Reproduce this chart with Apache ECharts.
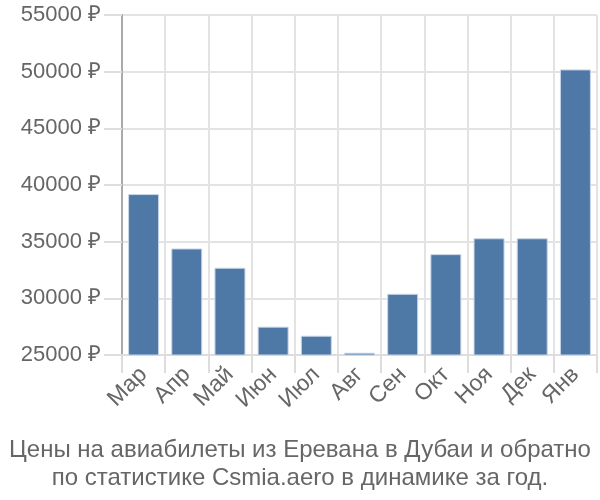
<!DOCTYPE html>
<html>
<head>
<meta charset="utf-8">
<script src="https://cdn.jsdelivr.net/npm/echarts@6/dist/echarts.min.js"></script>
<style>html,body{margin:0;padding:0;background:#fff}#c{width:600px;height:500px}</style>
</head>
<body>
<div id="c"></div>
<script>
const months = ["Мар","Апр","Май","Июн","Июл","Авг","Сен","Окт","Ноя","Дек","Янв"];
const prices = [39200, 34400, 32700, 27500, 26700, 25200, 30400, 33900, 35300, 35300, 50200];
const yMin = 25000, yMax = 55000, yStep = 5000;
const titleLines = ["Цены на авиабилеты из Еревана в Дубаи и обратно", "по статистике Csmia.aero в динамике за год."];

const font = "Liberation Sans";
const chart = echarts.init(document.getElementById('c'), null, {renderer: 'canvas'});
chart.setOption({
  animation: false,
  title: {
    text: titleLines.join("\n"),
    left: 'center',
    top: 431,
    textStyle: {fontFamily: font, fontSize: 24, fontWeight: 'normal', color: '#666', lineHeight: 28}
  },
  grid: {left: 122, right: 3, top: 15, bottom: 145},
  xAxis: {
    type: 'category',
    data: months,
    axisLine: {show: true, lineStyle: {color: '#ddd', width: 2}},
    axisTick: {show: true, length: 18, lineStyle: {color: '#ddd', width: 2}},
    splitLine: {show: true, lineStyle: {color: '#e3e3e3', width: 2}},
    axisLabel: {rotate: 45, fontFamily: font, fontSize: 23, color: '#666', margin: 16}
  },
  yAxis: {
    type: 'value',
    min: yMin, max: yMax, interval: yStep,
    axisLine: {show: true, lineStyle: {color: '#aaa', width: 2}},
    axisTick: {show: true, length: 18, lineStyle: {color: '#ddd', width: 2}},
    splitLine: {show: true, lineStyle: {color: '#e3e3e3', width: 2}},
    axisLabel: {fontFamily: font, fontSize: 22, color: '#666', margin: 21, formatter: v => v + ' ₽'}
  },
  series: [{
    type: 'bar',
    data: prices,
    barWidth: 31,
    itemStyle: {color: '#4e79a7', borderColor: '#c9d6e6', borderWidth: 1}
  }]
});
</script>
</body>
</html>
